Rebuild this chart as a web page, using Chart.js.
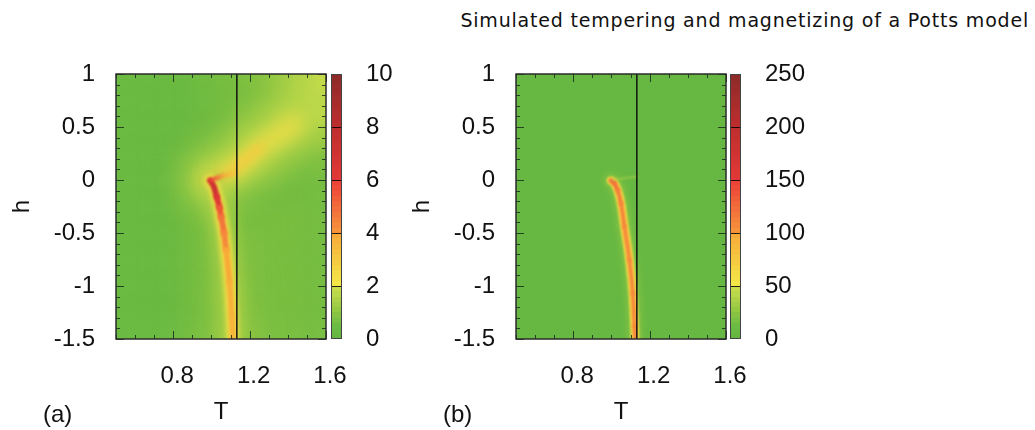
<!DOCTYPE html>
<html>
<head>
<meta charset="utf-8">
<script src="https://cdn.jsdelivr.net/npm/chart.js@4.4.1/dist/chart.umd.min.js"></script>
<style>
  html, body { margin: 0; padding: 0; background: #fff; }
  #wrap { position: relative; width: 1035px; height: 430px; overflow: hidden; font-family: "Liberation Sans", Arial, sans-serif; }
  canvas { position: absolute; top: 0; }
  .lbl { position: absolute; font-size: 24px; line-height: 28px; color: #111; }
  #title { position: absolute; top: 7px; right: 6px; font-family: "DejaVu Sans", sans-serif; font-size: 19px; letter-spacing: 0.8px; line-height: 26px; color: #111; white-space: nowrap; }
</style>
</head>
<body>
<div id="wrap">
  <div id="title">Simulated tempering and magnetizing of a Potts model</div>
  <canvas id="mainA" width="370" height="430" style="left:0px"></canvas>
  <canvas id="barA" width="100" height="430" style="left:320px"></canvas>
  <canvas id="mainB" width="370" height="430" style="left:400px"></canvas>
  <canvas id="barB" width="100" height="430" style="left:719px"></canvas>
  <div class="lbl" style="left:43px;top:400px">(a)</div>
  <div class="lbl" style="left:443px;top:400px">(b)</div>
</div>
<script>
(function () {
    'use strict';

    // ---- values ----
    var tRange = [0.5, 1.6];
    var hRange = [-1.5, 1];
    var tTicks = [0.8, 1.2, 1.6];
    var hTicks = [-1.5, -1, -0.5, 0, 0.5, 1];
    var cbTicksA = [0, 2, 4, 6, 8, 10];
    var cbTicksB = [0, 50, 100, 150, 200, 250];
    var tcLine = 1.133;

    // coarse background field of panel (a): cell centres and values
    var bgT = [0.55, 0.65, 0.75, 0.85, 0.95, 1.05, 1.15, 1.25, 1.35, 1.45, 1.55];
    var bgH = [0.875, 0.625, 0.375, 0.125, -0.125, -0.375, -0.625, -0.875, -1.125, -1.375];
    var bgA = [
        [0.5, 0.5, 0.5, 0.5, 0.6, 0.7, 0.8, 1.0, 1.3, 1.7, 2.0],
        [0.5, 0.5, 0.5, 0.5, 0.6, 0.7, 0.9, 1.1, 1.4, 1.7, 1.8],
        [0.5, 0.5, 0.5, 0.55, 0.65, 0.8, 1.1, 1.3, 1.3, 1.2, 1.1],
        [0.5, 0.5, 0.5, 0.6, 0.8, 1.0, 1.3, 1.0, 0.9, 0.8, 0.8],
        [0.5, 0.5, 0.5, 0.6, 0.8, 1.1, 0.55, 0.6, 0.7, 0.7, 0.7],
        [0.5, 0.5, 0.5, 0.6, 0.8, 1.1, 0.8, 0.8, 0.8, 0.8, 0.7],
        [0.5, 0.5, 0.5, 0.6, 0.8, 1.1, 0.9, 0.9, 0.8, 0.8, 0.7],
        [0.5, 0.5, 0.5, 0.6, 0.8, 1.1, 1.0, 0.9, 0.8, 0.8, 0.7],
        [0.5, 0.5, 0.5, 0.6, 0.8, 1.2, 1.1, 0.9, 0.8, 0.8, 0.7],
        [0.5, 0.5, 0.5, 0.6, 0.8, 1.2, 1.1, 1.0, 0.8, 0.8, 0.7]
    ];
    var bgBaseA = 0.5;
    var bgBaseB = 5;

    // panel (a): susceptibility ridge, branch towards Tc and the plume
    var ridgeAT = [0.993, 1.012, 1.028, 1.042, 1.051, 1.066, 1.077, 1.095, 1.107, 1.112];
    var ridgeAH = [-0.005, -0.06, -0.16, -0.26, -0.35, -0.5, -0.66, -0.97, -1.29, -1.5];
    var ridgeAV = [6.8, 7.4, 6.8, 5.8, 5.0, 4.5, 4.1, 3.8, 3.6, 3.6];
    var branchAT = [0.993, 1.03, 1.06, 1.10, 1.133];
    var branchAH = [-0.005, 0.02, 0.04, 0.055, 0.065];
    var branchAV = [6.5, 5.0, 4.0, 3.4, 3.0];
    var plumeAT = [0.99, 1.06, 1.13, 1.25, 1.43, 1.60];
    var plumeAH = [0.0, 0.05, 0.12, 0.30, 0.52, 0.76];

    // panel (b)
    var ridgeBT = [0.997, 1.015, 1.032, 1.050, 1.068, 1.094, 1.112, 1.121, 1.124];
    var ridgeBH = [-0.006, -0.03, -0.094, -0.22, -0.44, -0.755, -1.07, -1.38, -1.5];
    var ridgeBV = [135, 122, 115, 110, 108, 106, 106, 108, 108];
    var branchBT = [0.997, 1.06, 1.133];
    var branchBH = [-0.006, 0.015, 0.03];

    // ---- colour map (green - yellow - orange - red - dark red) ----
    var cmapPos = [0, 0.05, 0.1, 0.2, 0.2, 0.4, 0.4, 0.6, 0.6, 0.8, 1];
    var cmapRGB = [[100, 182, 66], [108, 187, 67], [140, 197, 66], [205, 222, 76], [243, 234, 72],
                   [247, 168, 56], [246, 150, 60], [236, 62, 56], [226, 56, 55], [190, 46, 46], [140, 42, 42]];

    function colorFor(v, vmax, a) {
        var f = Math.max(0, Math.min(1, v / vmax));
        var i = 0;
        while (i < cmapPos.length - 2 && f > cmapPos[i + 1]) { i++; }
        var p0 = cmapPos[i], p1 = cmapPos[i + 1];
        var k = p1 > p0 ? (f - p0) / (p1 - p0) : 1;
        var c0 = cmapRGB[i], c1 = cmapRGB[i + 1];
        var rgb = [0, 1, 2].map(function (j) { return Math.round(c0[j] + (c1[j] - c0[j]) * k); });
        return 'rgba(' + rgb.join(',') + ',' + (a === undefined ? 1 : a) + ')';
    }

    var FONT = { family: '"Liberation Sans", Arial, sans-serif', size: 24 };
    var INK = '#111';

    function pts(tArr, hArr) {
        return tArr.map(function (t, i) { return { x: t, y: hArr[i] }; });
    }

    function lineDs(tArr, hArr, o) {
        var ds = {
            data: pts(tArr, hArr),
            showLine: true,
            pointRadius: 0,
            borderWidth: o.width,
            borderColor: o.color || '#000',
            cubicInterpolationMode: o.straight ? 'default' : 'monotone',
            tension: o.straight ? 0 : 0.4,
            clip: 0,
            order: o.order,
            borderCapStyle: o.cap || 'round',
            borderJoinStyle: 'round',
            blur: o.blur || 0
        };
        if (o.vals) {
            ds.segment = {
                borderColor: function (c) {
                    return colorFor((o.vals[c.p0DataIndex] + o.vals[c.p1DataIndex]) / 2, o.vmax);
                }
            };
        }
        return ds;
    }

    // blurred layers give the smooth heat-map look
    var blurPlugin = {
        id: 'blurLayers',
        beforeDatasetDraw: function (chart, args) {
            var ds = chart.data.datasets[args.index];
            chart.ctx.save();
            if (ds.blur) { chart.ctx.filter = 'blur(' + ds.blur + 'px)'; }
        },
        afterDatasetDraw: function (chart) { chart.ctx.restore(); }
    };

    function heatPlugin(base, rows, vmax) {
        return {
            id: 'heatBg',
            beforeDatasetsDraw: function (chart) {
                var ctx = chart.ctx, a = chart.chartArea, x = chart.scales.x, y = chart.scales.y;
                ctx.save();
                ctx.beginPath();
                ctx.rect(a.left, a.top, a.width, a.height);
                ctx.clip();
                ctx.fillStyle = colorFor(base, vmax);
                ctx.fillRect(a.left, a.top, a.width, a.height);
                ctx.filter = 'blur(9px)';
                rows.forEach(function (row, i) {
                    row.forEach(function (v, j) {
                        var x0 = x.getPixelForValue(bgT[j] - 0.05), x1 = x.getPixelForValue(bgT[j] + 0.05);
                        var y0 = y.getPixelForValue(bgH[i] + 0.125), y1 = y.getPixelForValue(bgH[i] - 0.125);
                        if (j === 0) { x0 -= 25; }
                        if (j === row.length - 1) { x1 += 25; }
                        if (i === 0) { y0 -= 25; }
                        if (i === rows.length - 1) { y1 += 25; }
                        ctx.fillStyle = colorFor(v, vmax);
                        ctx.fillRect(x0, y0, x1 - x0 + 1, y1 - y0 + 1);
                    });
                });
                ctx.restore();
            }
        };
    }

    // frame with gnuplot-like inward ticks
    var framePlugin = {
        id: 'frame',
        afterDatasetsDraw: function (chart) {
            var ctx = chart.ctx, a = chart.chartArea, x = chart.scales.x, y = chart.scales.y;
            ctx.save();
            ctx.strokeStyle = 'rgba(25,45,25,0.85)';
            ctx.lineWidth = 1;
            var i, p, len, v;
            for (i = 5; i <= 16; i++) {
                v = i / 10;
                p = Math.round(x.getPixelForValue(v)) + 0.5;
                len = tTicks.indexOf(v) >= 0 ? 8 : 4;
                ctx.beginPath();
                ctx.moveTo(p, a.bottom); ctx.lineTo(p, a.bottom - len);
                ctx.moveTo(p, a.top); ctx.lineTo(p, a.top + len);
                ctx.stroke();
            }
            for (i = -15; i <= 10; i++) {
                v = i / 10;
                p = Math.round(y.getPixelForValue(v)) + 0.5;
                len = i % 5 === 0 ? 8 : 4;
                ctx.beginPath();
                ctx.moveTo(a.left, p); ctx.lineTo(a.left + len, p);
                ctx.moveTo(a.right, p); ctx.lineTo(a.right - len, p);
                ctx.stroke();
            }
            ctx.strokeStyle = '#2b2b2b';
            ctx.lineWidth = 1.5;
            ctx.strokeRect(a.left, a.top, a.width, a.height);
            ctx.restore();
        }
    };

    function makeMain(id, datasets, heat) {
        new Chart(document.getElementById(id), {
            type: 'scatter',
            data: { datasets: datasets },
            plugins: [heat, blurPlugin, framePlugin],
            options: {
                responsive: false,
                animation: false,
                events: [],
                layout: { padding: { left: 0, top: 74, right: 44, bottom: 0 } },
                plugins: { legend: { display: false }, tooltip: { enabled: false } },
                scales: {
                    x: {
                        type: 'linear', min: tRange[0], max: tRange[1],
                        grid: { display: false, drawTicks: false },
                        border: { display: false },
                        afterBuildTicks: function (s) { s.ticks = tTicks.map(function (v) { return { value: v }; }); },
                        afterFit: function (s) { s.height = 91; },
                        ticks: { font: FONT, color: INK, padding: 23, labelOffset: 4, autoSkip: false,
                                 maxRotation: 0, minRotation: 0, callback: function (v) { return String(v); } },
                        title: { display: true, text: 'T', font: FONT, color: INK, padding: { top: 0, bottom: 3 } }
                    },
                    y: {
                        type: 'linear', min: hRange[0], max: hRange[1],
                        grid: { display: false, drawTicks: false },
                        border: { display: false },
                        afterBuildTicks: function (s) { s.ticks = hTicks.map(function (v) { return { value: v }; }); },
                        afterFit: function (s) { s.width = 116; },
                        ticks: { font: FONT, color: INK, padding: 21, autoSkip: false,
                                 callback: function (v) { return String(v); } },
                        title: { display: true, text: 'h', font: FONT, color: INK, padding: { top: 8, bottom: 0 } }
                    }
                }
            }
        });
    }

    function tcDs() {
        return lineDs([tcLine, tcLine], [hRange[0], hRange[1]],
                      { width: 1.5, color: '#111', order: 0, straight: true, cap: 'butt' });
    }

    // ---- panel (a) ----
    makeMain('mainA', [
        tcDs(),
        lineDs(branchAT, branchAH, { width: 3.5, vals: branchAV, vmax: 10, blur: 1.5, order: 1 }),
        lineDs(ridgeAT, ridgeAH, { width: 6, vals: ridgeAV, vmax: 10, blur: 1.2, order: 2 }),
        lineDs(ridgeAT, ridgeAH, { width: 12, color: colorFor(2.4, 10), blur: 2.5, order: 3 }),
        lineDs(ridgeAT, ridgeAH, { width: 26, color: colorFor(1.5, 10, 0.75), blur: 7, order: 4 }),
        lineDs(plumeAT.slice(0, 4), plumeAH.slice(0, 4), { width: 10, color: colorFor(3.0, 10, 0.8), blur: 4, order: 5 }),
        lineDs(plumeAT.slice(0, 5), plumeAH.slice(0, 5), { width: 20, color: colorFor(2.4, 10, 0.75), blur: 8, order: 6 }),
        lineDs(plumeAT, plumeAH, { width: 52, color: colorFor(1.8, 10, 0.85), blur: 15, order: 7 })
    ], heatPlugin(bgBaseA, bgA, 10));

    // ---- panel (b) ----
    makeMain('mainB', [
        tcDs(),
        lineDs(branchBT, branchBH, { width: 2, color: colorFor(40, 250, 0.6), blur: 1, order: 1 }),
        lineDs(ridgeBT, ridgeBH, { width: 4.5, vals: ridgeBV, vmax: 250, blur: 0.8, order: 2 }),
        lineDs(ridgeBT, ridgeBH, { width: 8.5, color: colorFor(60, 250), blur: 1.2, order: 3 }),
        lineDs(ridgeBT, ridgeBH, { width: 14, color: colorFor(30, 250, 0.6), blur: 3, order: 4 })
    ], heatPlugin(bgBaseB, [], 250));

    // ---- colour bars ----
    function makeBar(id, vmax, ticks) {
        var cbFrame = {
            id: 'cbFrame',
            afterDatasetsDraw: function (chart) {
                var ctx = chart.ctx, a = chart.chartArea, y = chart.scales.y;
                ctx.save();
                ctx.strokeStyle = 'rgba(0,0,0,0.85)';
                ctx.lineWidth = 1;
                ticks.slice(1, -1).forEach(function (v) {
                    var p = Math.round(y.getPixelForValue(v)) + 0.5;
                    ctx.beginPath(); ctx.moveTo(a.left, p); ctx.lineTo(a.right, p); ctx.stroke();
                });
                ctx.strokeStyle = '#444';
                ctx.strokeRect(a.left + 0.5, a.top + 0.5, a.width - 1, a.height - 1);
                ctx.restore();
            }
        };
        new Chart(document.getElementById(id), {
            type: 'bar',
            data: {
                labels: [''],
                datasets: [{
                    data: [[0, vmax]],
                    barPercentage: 1,
                    categoryPercentage: 1,
                    borderWidth: 0,
                    backgroundColor: function (c) {
                        var chart = c.chart;
                        if (!chart.chartArea) { return colorFor(0, vmax); }
                        var y = chart.scales.y;
                        var g = chart.ctx.createLinearGradient(0, y.getPixelForValue(0), 0, y.getPixelForValue(vmax));
                        for (var k = 0; k < 50; k++) {
                            var col = colorFor((k + 0.5) / 50 * vmax, vmax);
                            g.addColorStop(k / 50, col);
                            g.addColorStop((k + 1) / 50, col);
                        }
                        return g;
                    }
                }]
            },
            plugins: [cbFrame],
            options: {
                responsive: false,
                animation: false,
                events: [],
                layout: { padding: { left: 11, top: 74, right: 0, bottom: 91 } },
                plugins: { legend: { display: false }, tooltip: { enabled: false } },
                scales: {
                    x: { display: false },
                    y: {
                        position: 'right', min: 0, max: vmax,
                        grid: { display: false, drawTicks: false },
                        border: { display: false },
                        afterBuildTicks: function (s) { s.ticks = ticks.map(function (v) { return { value: v }; }); },
                        afterFit: function (s) { s.width = 78; },
                        ticks: { font: FONT, color: INK, padding: 24, autoSkip: false,
                                 callback: function (v) { return String(v); } }
                    }
                }
            }
        });
    }

    makeBar('barA', 10, cbTicksA);
    makeBar('barB', 250, cbTicksB);
})();
</script>
</body>
</html>
